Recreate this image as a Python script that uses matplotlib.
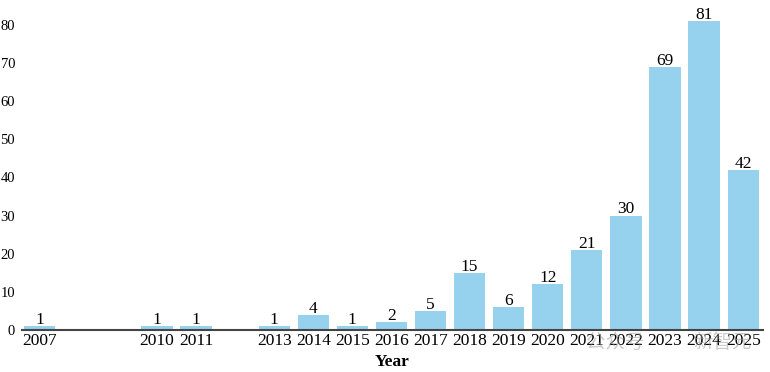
import matplotlib
matplotlib.use("Agg")
import matplotlib.pyplot as plt

years = [2007, 2010, 2011, 2013, 2014, 2015, 2016, 2017, 2018, 2019, 2020, 2021, 2022, 2023, 2024, 2025]
counts = [1, 1, 1, 1, 4, 1, 2, 5, 15, 6, 12, 21, 30, 69, 81, 42]
yticks = [0, 10, 20, 30, 40, 50, 60, 70, 80]

plt.rcParams['font.family'] = ['Liberation Serif', 'DejaVu Serif']

fig = plt.figure(figsize=(7.7, 3.72), dpi=100)
ax = fig.add_axes([0.0286, 0.113, 0.962, 0.882])

bars = ax.bar(years, counts, width=0.8, color='#96d2ee')
for x, v in zip(years, counts):
    ax.text(x, v + 0.55, str(v), ha='center', va='baseline', fontsize=12.5)

ax.set_xlim(2006.55, 2025.5)
ax.set_ylim(0, 86)
ax.set_xticks(years)
ax.set_xticklabels([str(y) for y in years], fontsize=12.5)
ax.set_yticks(yticks)
ax.set_yticklabels([str(t) for t in yticks], fontsize=10.5)
ax.tick_params(axis='x', length=0, pad=2)
ax.tick_params(axis='y', length=0, pad=5)
for s in ['top', 'right', 'left']:
    ax.spines[s].set_visible(False)
ax.spines['bottom'].set_color('#444444')
ax.spines['bottom'].set_linewidth(1.5)
ax.set_xlabel('Year', fontsize=12.5, fontweight='bold', labelpad=4)

wm = dict(fontsize=14, color='#999999', alpha=0.5, ha='center', va='center',
          family=['Noto Sans CJK SC', 'DejaVu Sans'])
fig.text(615 / 770, 1 - 342 / 372, '公众号', **wm)
fig.text(722 / 770, 1 - 342 / 372, '新智元', **wm)

fig.savefig('out.png', dpi=100)
